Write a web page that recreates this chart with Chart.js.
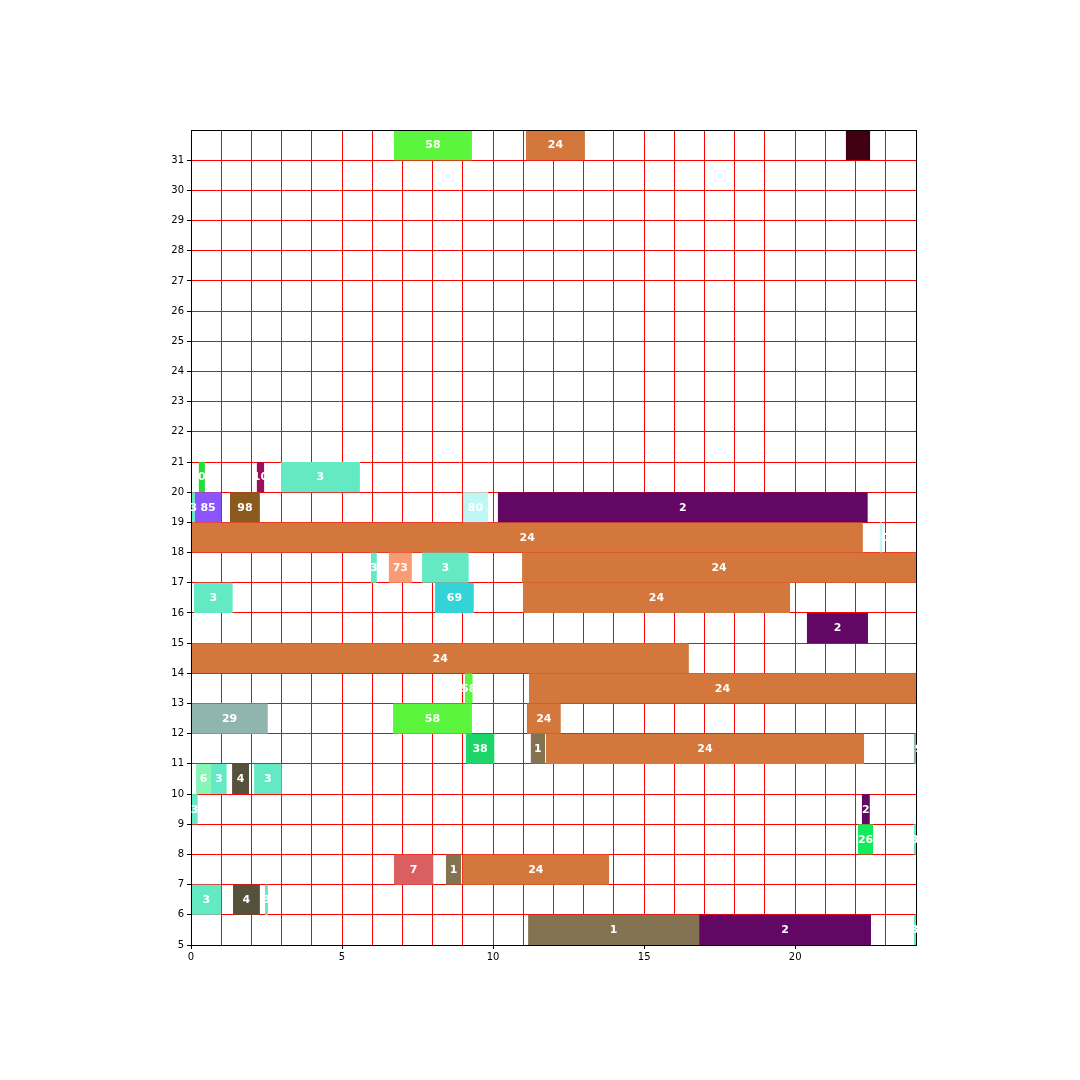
<!DOCTYPE html>
<html>
<head>
<meta charset="utf-8">
<script src="https://cdn.jsdelivr.net/npm/chart.js@4/dist/chart.umd.min.js"></script>
<style>
  html, body { margin: 0; padding: 0; background: #fff; }
  #wrap { width: 1080px; height: 1080px; }
</style>
</head>
<body>
<div id="wrap"><canvas id="c" width="1080" height="1080"></canvas></div>
<script>
// Each bar: row (bottom y value), start, end, label, colour
const rows   = [31, 31, 31,
                20, 20, 20,
                19, 19, 19, 19, 19,
                18, 18,
                17, 17, 17, 17,
                16, 16, 16,
                15,
                14,
                13, 13,
                12, 12, 12,
                11, 11, 11, 11,
                10, 10, 10, 10,
                9, 9,
                8, 8,
                7, 7, 7,
                6, 6, 6,
                5, 5, 5];
const starts = [6.72, 11.09, 21.68,
                0.26, 2.18, 2.98,
                0.03, 0.13, 1.29, 9.00, 10.16,
                0.00, 22.80,
                5.96, 6.55, 7.65, 10.96,
                0.10, 8.08, 10.99,
                20.39,
                0.00,
                9.07, 11.19,
                0.00, 6.69, 11.12,
                9.10, 11.25, 11.75, 23.93,
                0.17, 0.66, 1.36, 2.09,
                0.00, 22.21,
                22.08, 23.93,
                6.72, 8.44, 8.99,
                0.00, 1.39, 2.45,
                11.16, 16.82, 23.93];
const ends   = [9.30, 13.04, 22.48,
                0.46, 2.42, 5.59,
                0.13, 1.00, 2.28, 9.83, 22.40,
                22.24, 22.88,
                6.15, 7.31, 9.19, 24.00,
                1.38, 9.36, 19.83,
                22.41,
                16.48,
                9.32, 24.00,
                2.54, 9.30, 12.24,
                10.04, 11.72, 22.28, 24.00,
                0.66, 1.18, 1.92, 3.00,
                0.22, 22.47,
                22.58, 24.00,
                8.02, 8.94, 13.84,
                1.00, 2.28, 2.55,
                16.82, 22.51, 24.00];
const labels = ['58', '24', '',
                '0', '10', '3',
                '3', '85', '98', '80', '2',
                '24', '80',
                '3', '73', '3', '24',
                '3', '69', '24',
                '2',
                '24',
                '58', '24',
                '29', '58', '24',
                '38', '1', '24', '29',
                '6', '3', '4', '3',
                '3', '2',
                '26', '3',
                '7', '1', '24',
                '3', '4', '3',
                '1', '2', '3'];
const palette = {
  '24': '#d3773d', '2': '#630765', '3': '#63e9c3', '58': '#5af53c',
  '1': '#847350', '4': '#56513a', '80': '#bff7f4', '69': '#33d3d8',
  '85': '#8a55fd', '98': '#8b5a1e', '73': '#f99c73', '29': '#8fb5ae',
  '38': '#1dd66a', '6': '#85f6b5', '7': '#d95f60', '26': '#14eb5a',
  '0': '#22e033', '10': '#9e0f5a', '': '#400012'
};
const xTickStep = 5;
const yTopHidden = 32;

const barData = rows.map((r, i) => ({ x: [starts[i], ends[i]], y: r + 0.5 }));
const barColors = labels.map(l => palette[l]);

const overlay = {
  id: 'overlay',
  afterDraw(chart) {
    const ctx = chart.ctx;
    const a = chart.chartArea;
    ctx.save();
    ctx.strokeStyle = '#000';
    ctx.lineWidth = 1;
    ctx.strokeRect(Math.round(a.left) + 0.5, Math.round(a.top) + 0.5,
                   Math.round(a.right - a.left) - 1 + 1, Math.round(a.bottom - a.top));
    ctx.fillStyle = '#fff';
    ctx.font = 'bold 11px "DejaVu Sans"';
    ctx.textAlign = 'center';
    ctx.textBaseline = 'middle';
    const meta = chart.getDatasetMeta(0);
    meta.data.forEach((el, i) => {
      const p = el.getCenterPoint();
      if (labels[i]) ctx.fillText(labels[i], p.x, p.y + 0.5);
    });
    ctx.restore();
  }
};

new Chart(document.getElementById('c'), {
  type: 'bar',
  data: {
    datasets: [{
      data: barData,
      backgroundColor: barColors,
      borderWidth: 0,
      barPercentage: 1,
      categoryPercentage: 1,
      grouped: false,
      inflateAmount: 0
    }]
  },
  options: {
    indexAxis: 'y',
    responsive: false,
    animation: false,
    layout: { padding: { left: 151, right: 164, top: 130, bottom: 105 } },
    plugins: { legend: { display: false }, tooltip: { enabled: false } },
    scales: {
      x: {
        type: 'linear', min: 0, max: 24, z: 1, offset: false,
        afterFit: s => { s.height = 30; },
        ticks: {
          stepSize: 1, autoSkip: false, maxRotation: 0, maxTicksLimit: 100,
          callback: v => (v % xTickStep === 0 ? String(v) : ''),
          font: { family: 'DejaVu Sans', size: 10 }, color: '#000', padding: 2
        },
        grid: {
          color: '#ff0000', lineWidth: 1, tickLength: 4,
          tickColor: c => (c.tick && c.tick.value % xTickStep === 0 ? '#000' : 'rgba(0,0,0,0)')
        },
        border: { color: '#000', width: 1 }
      },
      y: {
        type: 'linear', min: 5, max: 32, z: 1, offset: false,
        afterFit: s => { s.width = 40; },
        ticks: {
          stepSize: 1, autoSkip: false, maxTicksLimit: 100,
          callback: v => (v === yTopHidden ? '' : String(v)),
          font: { family: 'DejaVu Sans', size: 10 }, color: '#000', padding: 3
        },
        grid: {
          offset: false, color: '#ff0000', lineWidth: 1, tickLength: 4,
          tickColor: c => (c.tick && c.tick.value === yTopHidden ? 'rgba(0,0,0,0)' : '#000')
        },
        border: { color: '#000', width: 1 }
      }
    }
  },
  plugins: [overlay]
});
</script>
</body>
</html>
